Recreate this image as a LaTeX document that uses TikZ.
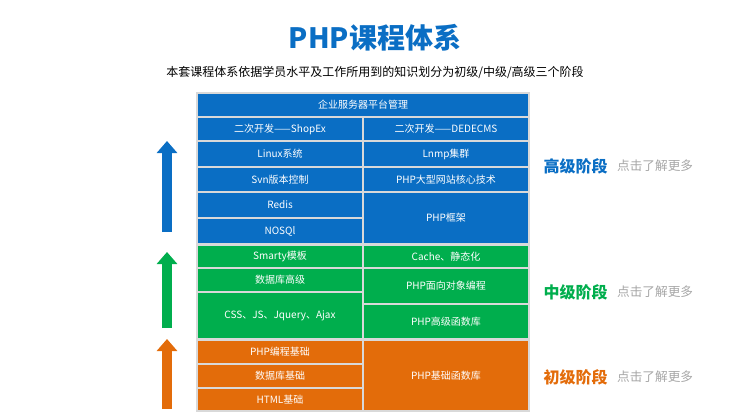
\documentclass[tikz,border=0pt]{standalone}
\usepackage{fontspec}
\setmainfont{Noto Sans CJK SC}
\usetikzlibrary{arrows.meta}
\definecolor{hiblue}{HTML}{0A6EC4}
\definecolor{midgreen}{HTML}{00AE4D}
\definecolor{loworange}{HTML}{E36C0A}
\definecolor{gridline}{HTML}{D9D9D9}
\definecolor{moregray}{HTML}{A6A6A6}

% cell: name, x1, y1, x2, y2, colour, text
\newcommand{\cell}[7]{%
  \node[cellbox, fill=#6, minimum width=(#4-#2)*0.75pt, minimum height=(#5-#3)*0.75pt]
    (#1) at ({(#2+#4)/2},{(#3+#5)/2}) {#7};}

\begin{document}
\begin{tikzpicture}[
  x=0.75pt, y=-0.75pt,
  cellbox/.style = {draw=gridline, line width=0.8pt, inner sep=0pt, text=white, font=\fontsize{7.5}{9}\selectfont},
  stagearrow/.style = {line width=7.5pt, -{Triangle[width=15pt,length=9pt]}},
  stage/.style = {font=\fontsize{12}{14}\selectfont\bfseries, anchor=west},
  more/.style = {font=\fontsize{9.5}{11}\selectfont, text=moregray, anchor=west},
]
  \useasboundingbox (0,0) rectangle (750,418);

  \node[font=\fontsize{21}{24}\selectfont\bfseries, text=hiblue] (title) at (375,38) {PHP课程体系};
  \node[font=\fontsize{9}{11}\selectfont] (sub) at (375,72) {本套课程体系依据学员水平及工作所用到的知识划分为初级/中级/高级三个阶段};

  % advanced
  \cell{top}{197}{93}{529}{117}{hiblue}{企业服务器平台管理}
  \cell{shop}{197}{117}{363}{141}{hiblue}{二次开发——ShopEx}
  \cell{dede}{363}{117}{529}{141}{hiblue}{二次开发——DEDECMS}
  \cell{linux}{197}{141}{363}{167}{hiblue}{Linux系统}
  \cell{lnmp}{363}{141}{529}{167}{hiblue}{Lnmp集群}
  \cell{svn}{197}{167}{363}{192}{hiblue}{Svn版本控制}
  \cell{core}{363}{167}{529}{192}{hiblue}{PHP大型网站核心技术}
  \cell{redis}{197}{192}{363}{218}{hiblue}{Redis}
  \cell{nosql}{197}{218}{363}{244}{hiblue}{NOSQl}
  \cell{frame}{363}{192}{529}{244}{hiblue}{PHP框架}

  % middle
  \cell{smarty}{197}{245}{363}{268}{midgreen}{Smarty模板}
  \cell{cache}{363}{245}{529}{268}{midgreen}{Cache、静态化}
  \cell{dbhigh}{197}{268}{363}{292}{midgreen}{数据库高级}
  \cell{css}{197}{292}{363}{339}{midgreen}{CSS、JS、Jquery、Ajax}
  \cell{oop}{363}{268}{529}{304}{midgreen}{PHP面向对象编程}
  \cell{funhigh}{363}{304}{529}{339}{midgreen}{PHP高级函数库}

  % basic
  \cell{phpbase}{197}{340}{363}{364}{loworange}{PHP编程基础}
  \cell{dbbase}{197}{364}{363}{388}{loworange}{数据库基础}
  \cell{html}{197}{388}{363}{411}{loworange}{HTML基础}
  \cell{funbase}{363}{340}{529}{411}{loworange}{PHP基础函数库}

  \coordinate (a1) at (167,232); \coordinate (b1) at (167,141);
  \coordinate (a2) at (167,328); \coordinate (b2) at (167,252);
  \coordinate (a3) at (167,409); \coordinate (b3) at (167,339);
  \draw[stagearrow, hiblue] (a1) -- (b1);
  \draw[stagearrow, midgreen] (a2) -- (b2);
  \draw[stagearrow, loworange] (a3) -- (b3);

  \node[stage, text=hiblue] (s3) at (539,166) {高级阶段};
  \node[more] (m3) at (s3.east) {点击了解更多};
  \node[stage, text=midgreen] (s2) at (539,292) {中级阶段};
  \node[more] (m2) at (s2.east) {点击了解更多};
  \node[stage, text=loworange] (s1) at (539,377) {初级阶段};
  \node[more] (m1) at (s1.east) {点击了解更多};
\end{tikzpicture}
\end{document}
